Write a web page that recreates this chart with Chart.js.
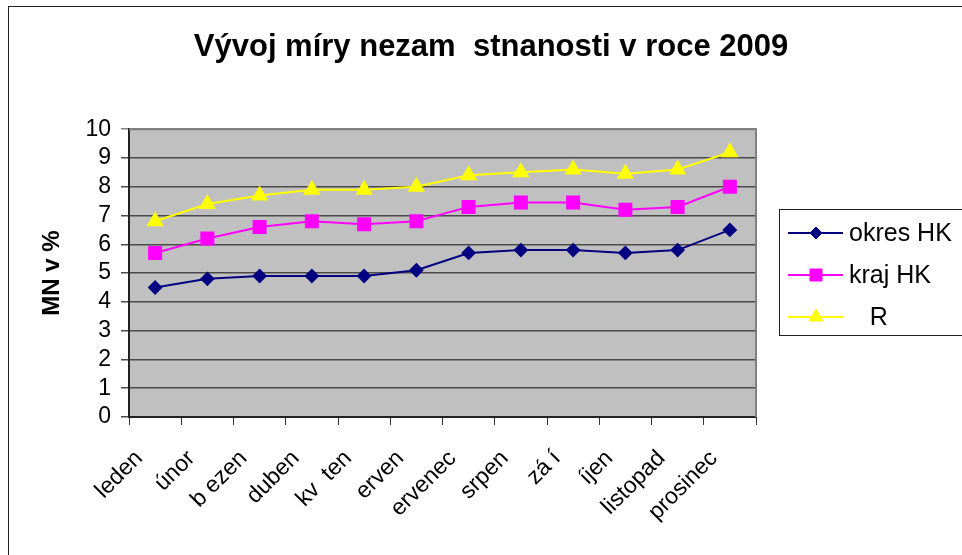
<!DOCTYPE html>
<html><head><meta charset="utf-8">
<script src="https://cdn.jsdelivr.net/npm/chart.js@4/dist/chart.umd.min.js"></script>
<style>html,body{margin:0;padding:0;background:#fff}canvas{display:block}</style>
</head><body>
<canvas id="c" width="962" height="555"></canvas>
<script>
const categories = ["leden","únor","b ezen","duben","kv  ten"," erven"," ervenec","srpen","zá í"," íjen","listopad","prosinec"];
const okresHK = [4.5, 4.8, 4.9, 4.9, 4.9, 5.1, 5.7, 5.8, 5.8, 5.7, 5.8, 6.5];
const krajHK  = [5.7, 6.2, 6.6, 6.8, 6.7, 6.8, 7.3, 7.45, 7.45, 7.2, 7.3, 8.0];
const ceskaR  = [6.8, 7.4, 7.7, 7.9, 7.9, 8.0, 8.4, 8.5, 8.6, 8.45, 8.6, 9.2];
const seriesNames = ["okres HK", "kraj HK", "   R"];
const yMin = 0, yMax = 10, yStep = 1;
const titleText = "Vývoj míry nezam  stnanosti v roce 2009";
const yTitleText = "MN v %";

const FONT = '"Liberation Sans", Arial, Helvetica, sans-serif';

const bgPlugin = {
  id: 'bgPlugin',
  beforeDraw(chart) {
    const ctx = chart.ctx, a = chart.chartArea;
    ctx.save();
    ctx.fillStyle = '#ffffff';
    ctx.fillRect(0, 0, chart.width, chart.height);
    ctx.fillStyle = '#C0C0C0';
    ctx.fillRect(a.left, a.top, a.right - a.left, a.bottom - a.top);
    ctx.restore();
  },
  afterDatasetsDraw(chart) {
    const ctx = chart.ctx, a = chart.chartArea;
    ctx.save();
    ctx.strokeStyle = '#808080';
    ctx.lineWidth = 2;
    ctx.beginPath();
    ctx.moveTo(a.left, a.top);
    ctx.lineTo(a.right, a.top);
    ctx.lineTo(a.right, a.bottom);
    ctx.stroke();
    ctx.restore();
  },
  afterDraw(chart) {
    const ctx = chart.ctx;
    ctx.save();
    ctx.strokeStyle = '#222';
    ctx.lineWidth = 1;
    ctx.strokeRect(8.5, 6.5, 2000, 2000);
    ctx.strokeRect(779.5, 209.5, 400, 126);
    const rows = [233, 275, 317];
    chart.data.datasets.forEach((ds, i) => {
      const y = rows[i];
      ctx.strokeStyle = ds.borderColor;
      ctx.lineWidth = 2;
      ctx.beginPath();
      ctx.moveTo(788, y);
      ctx.lineTo(843, y);
      ctx.stroke();
      ctx.fillStyle = ds.pointBackgroundColor;
      ctx.strokeStyle = ds.pointBorderColor;
      ctx.lineWidth = 1;
      Chart.helpers.drawPoint(ctx, {pointStyle: ds.pointStyle, radius: ds.pointRadius, borderWidth: 1, rotation: 0}, 816, y);
      ctx.fillStyle = '#000';
      ctx.font = '25px ' + FONT;
      ctx.textAlign = 'left';
      ctx.textBaseline = 'middle';
      ctx.fillText(ds.label, 849, y + 1);
    });
    ctx.restore();
  }
};

new Chart(document.getElementById('c'), {
  type: 'line',
  data: {
    labels: categories,
    datasets: [
      { label: seriesNames[0], data: okresHK, borderColor: '#000080', backgroundColor: '#000080',
        pointBackgroundColor: '#000080', pointBorderColor: '#000080', pointStyle: 'rectRot', pointRadius: 6,
        borderWidth: 2, tension: 0 },
      { label: seriesNames[1], data: krajHK, borderColor: '#FF00FF', backgroundColor: '#FF00FF',
        pointBackgroundColor: '#FF00FF', pointBorderColor: '#FF00FF', pointStyle: 'rect', pointRadius: 8.5,
        borderWidth: 2, tension: 0 },
      { label: seriesNames[2], data: ceskaR, borderColor: '#FFFF00', backgroundColor: '#FFFF00',
        pointBackgroundColor: '#FFFF00', pointBorderColor: '#FFFF00', pointStyle: 'triangle', pointRadius: 8,
        borderWidth: 2, tension: 0 }
    ]
  },
  options: {
    responsive: false,
    animation: false,
    devicePixelRatio: 1,
    layout: { padding: { left: 20, right: 0, top: 0, bottom: 0 } },
    plugins: {
      legend: { display: false },
      tooltip: { enabled: false },
      title: {
        display: true,
        text: titleText,
        color: '#000',
        font: { family: FONT, size: 31, weight: 'bold', lineHeight: 1.2 },
        padding: { top: 29, bottom: 63 }
      }
    },
    scales: {
      x: {
        type: 'category',
        offset: true,
        grid: { display: true, offset: true, drawOnChartArea: false, drawTicks: true, tickLength: 8, color: '#333', lineWidth: 1 },
        border: { display: true, color: '#222', width: 2 },
        ticks: { autoSkip: false, minRotation: 45, maxRotation: 45, color: '#000', padding: 20, labelOffset: -16,
                 font: { family: FONT, size: 23 } },
        afterFit(scale) { scale.height = 138; }
      },
      y: {
        type: 'linear',
        min: yMin, max: yMax,
        grid: { color: (c) => (c.tick && c.tick.value === yMax) ? '#808080' : '#4a4a4a', lineWidth: 1.5, tickLength: 8 },
        border: { display: true, color: '#222', width: 2 },
        ticks: { stepSize: yStep, autoSkip: false, color: '#000', padding: 10,
                 font: { family: FONT, size: 23, lineHeight: 1 } },
        title: { display: true, text: yTitleText, color: '#000', padding: { top: 18, bottom: 0 },
                 font: { family: FONT, size: 24, weight: 'bold', lineHeight: 1.2 } },
        afterFit(scale) { scale.width = 109; }
      },
      yR: {
        type: 'linear',
        position: 'right',
        display: true,
        grid: { display: false },
        border: { display: false },
        ticks: { display: false },
        afterFit(scale) { scale.width = 206; }
      }
    }
  },
  plugins: [bgPlugin]
});
</script>
</body></html>
